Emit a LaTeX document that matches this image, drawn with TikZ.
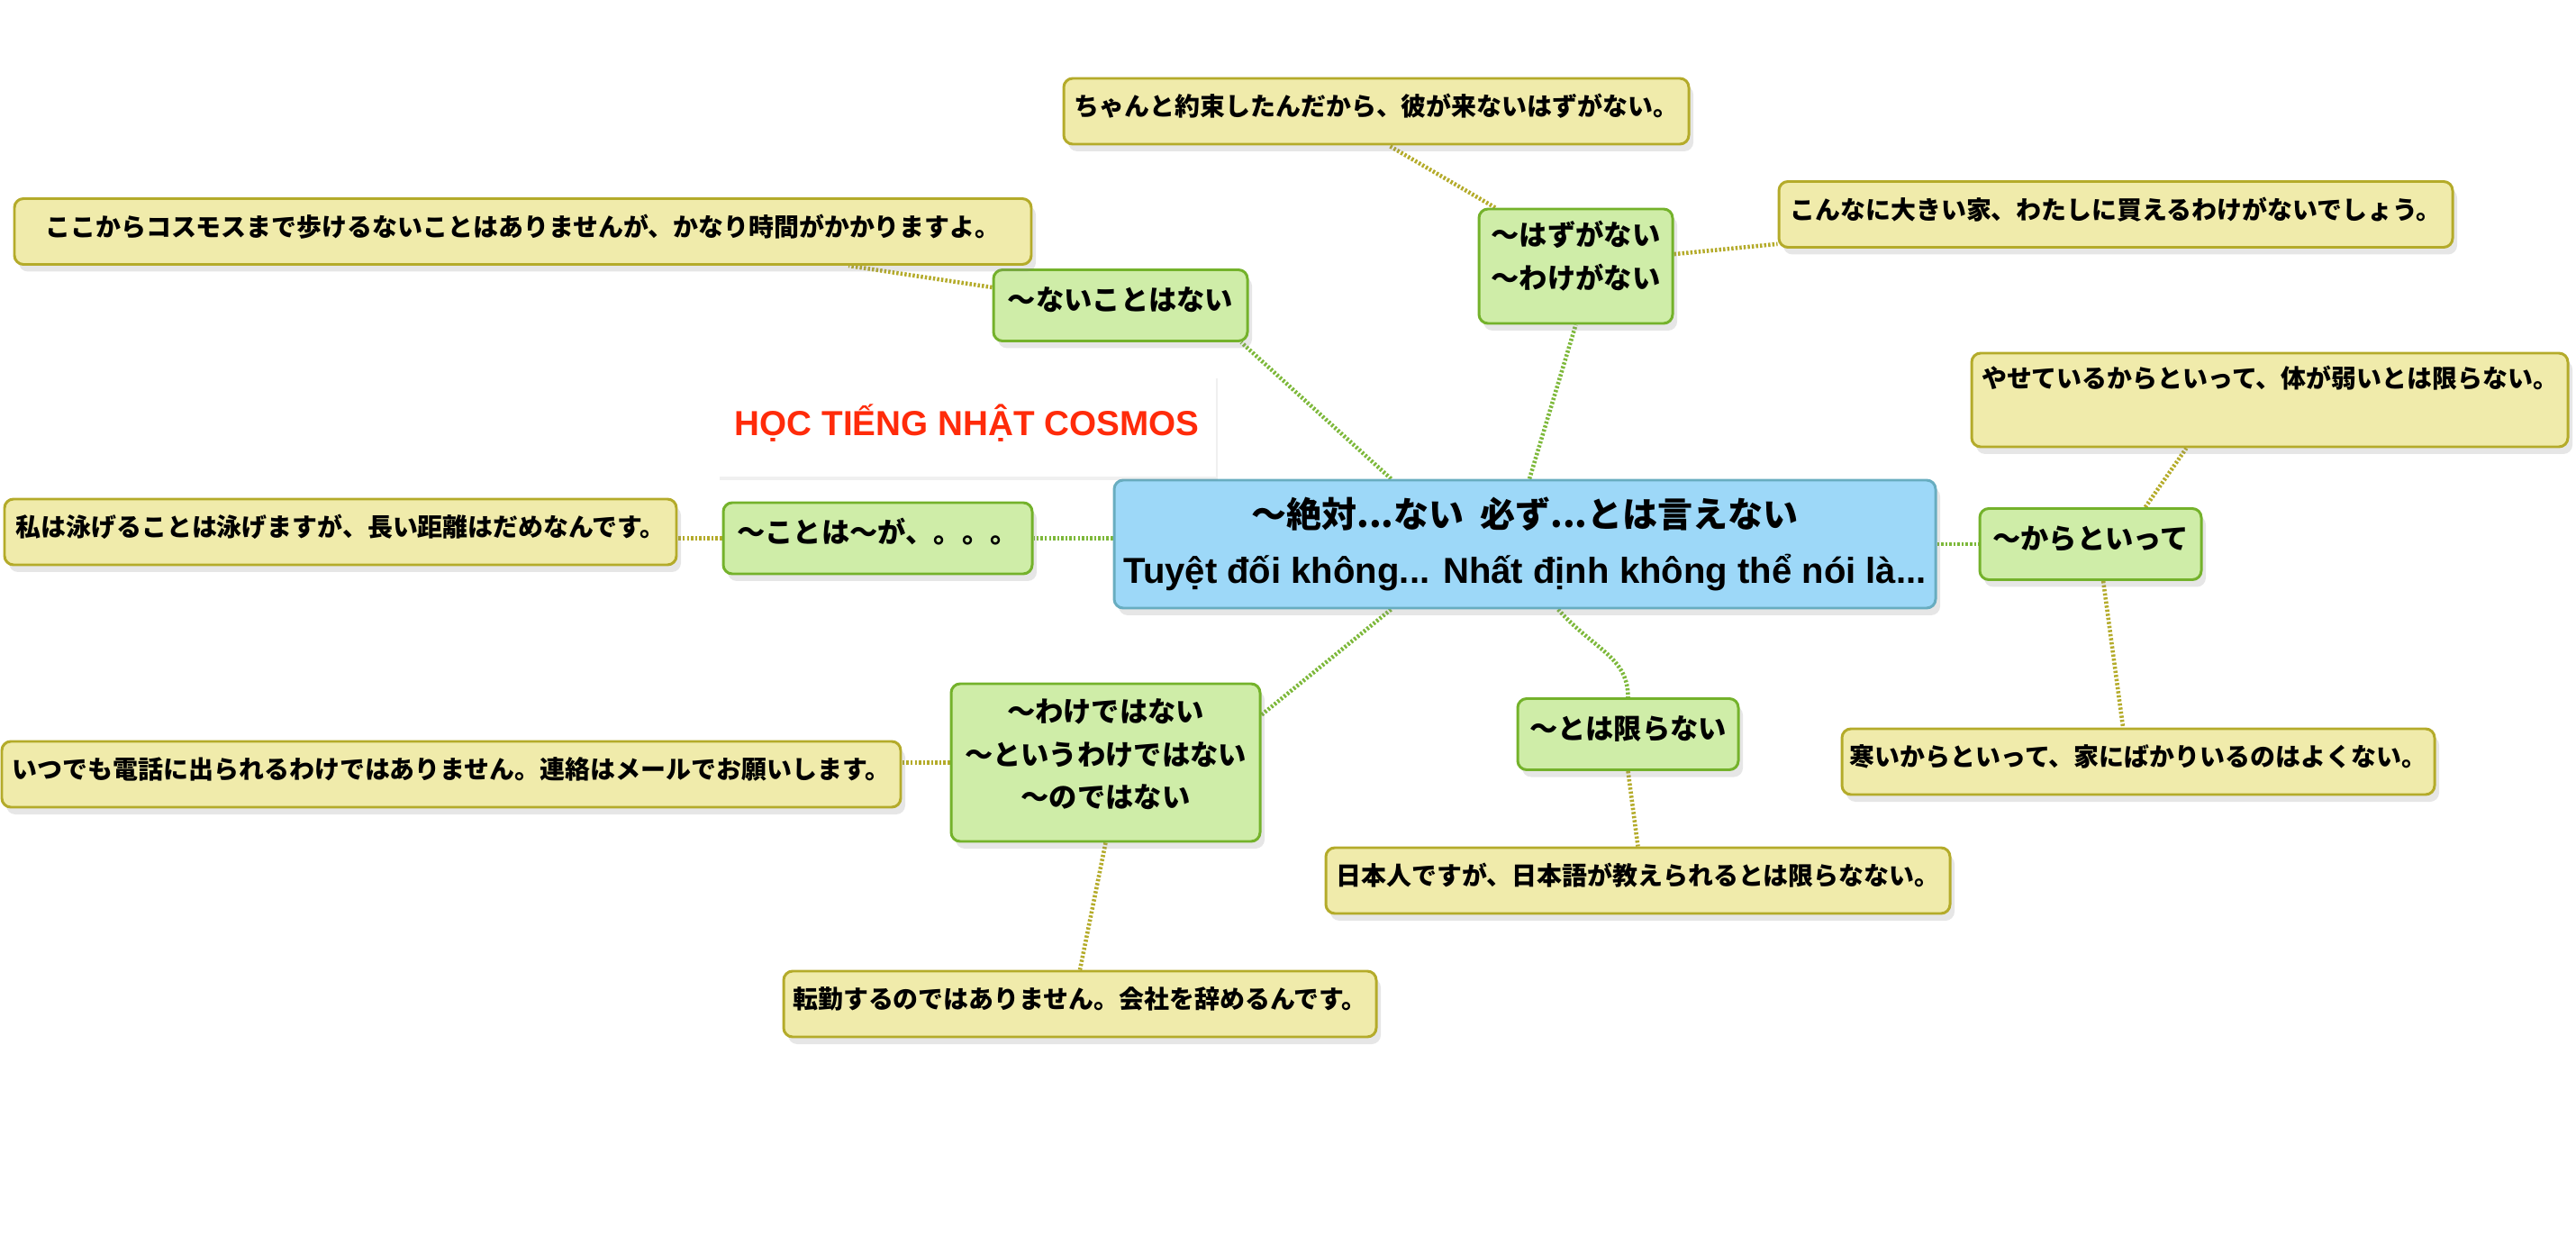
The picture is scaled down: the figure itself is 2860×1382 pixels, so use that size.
\documentclass[tikz,border=0pt]{standalone}
\usepackage{fontspec}
\setmainfont{Liberation Sans}
\newfontfamily\jp{Noto Sans CJK JP}
\usepackage{xcolor}
\usepackage{tikz}
\usetikzlibrary{positioning,calc,backgrounds,shadows}

\definecolor{topicblue}{HTML}{9DD8F8}
\definecolor{topicedge}{HTML}{68ADC0}
\definecolor{subgreen}{HTML}{CFEDA8}
\definecolor{subedge}{HTML}{74B22B}
\definecolor{exyellow}{HTML}{F0EBAB}
\definecolor{exedge}{HTML}{B4AB2A}
\definecolor{linkgreen}{HTML}{7DB83A}
\definecolor{titlered}{HTML}{FF2B0A}

\newcommand{\rows}[1]{\begin{tabular}[t]{@{}c@{}}#1\end{tabular}}

\begin{document}
\begin{tikzpicture}[
  x=0.1mm, y=-0.1mm,
  box/.style={draw, rounded corners=1mm, line width=0.85pt, inner xsep=0pt, inner ysep=0pt,
    drop shadow={shadow xshift=0.5mm, shadow yshift=-0.8mm, opacity=0.2}},
  topic/.style={box, fill=topicblue, draw=topicedge, font=\bfseries\fontsize{11.4pt}{17.6pt}\selectfont,
    text height=5.28mm, text depth=8.92mm, minimum width=91.2mm},
  sub/.style={box, fill=subgreen, draw=subedge, font=\jp\bfseries\fontsize{8.9pt}{13.5pt}\selectfont,
    text height=4.49mm, text depth=3.41mm},
  example/.style={box, fill=exyellow, draw=exedge, font=\jp\bfseries\fontsize{7.95pt}{10pt}\selectfont,
    text height=4.16mm, text depth=3.14mm},
  link/.style={draw=linkgreen, line width=1.3pt, dash pattern=on 0.7pt off 0.6pt},
  sublink/.style={link, draw=exedge},
]
\useasboundingbox (0,0) rectangle (2860,1382);

% main topic and title
\node[topic] (topic) at (1693,604)
  {\rows{{\jp\fontsize{11.1pt}{17.6pt}\selectfont 〜絶対...ない\ \ 必ず...とは言えない}\\
   Tuyệt đối không... Nhất định không thể nói là...}};
\node[draw=none, fill=white, text=titlered, inner sep=0pt,
  drop shadow={shadow xshift=0.2mm, shadow yshift=-0.4mm, opacity=0.12},
  font=\bfseries\fontsize{11pt}{13pt}\selectfont, minimum width=55.3mm,
  text height=6.75mm, text depth=4.55mm] (title) at (1073.5,472.5) {HỌC TIẾNG NHẬT COSMOS};

% grammar points
\node[sub, minimum width=28.2mm] (naikoto) at (1244,339) {〜ないことはない};
\node[sub, minimum width=21.5mm, text height=4.09mm, text depth=8.61mm] (hazu) at (1749.5,295.5)
  {\rows{〜はずがない\\〜わけがない}};
\node[sub, minimum width=34.3mm] (kotowa) at (974.5,597.5) {〜ことは〜が、。。。};
\node[sub, minimum width=24.6mm] (karato) at (2321,604) {〜からといって};
\node[sub, minimum width=34.3mm, text height=4.29mm, text depth=13.21mm] (wakede) at (1227.5,846.5)
  {\rows{〜わけではない\\〜というわけではない\\〜のではない}};
\node[sub, minimum width=24.5mm] (kagira) at (1807.5,815) {〜とは限らない};

% examples
\node[example, minimum width=69.4mm] (exhazu) at (1528,123.5) {ちゃんと約束したんだから、彼が来ないはずがない。};
\node[example, minimum width=74.8mm] (exwake) at (2349,238) {こんなに大きい家、わたしに買えるわけがないでしょう。};
\node[example, minimum width=112.9mm] (exnai) at (580.5,257) {ここからコスモスまで歩けるないことはありませんが、かなり時間がかかりますよ。};
\node[example, minimum width=66.2mm, text height=3.86mm, text depth=6.54mm] (exyase) at (2520,444) {やせているからといって、体が弱いとは限らない。};
\node[example, minimum width=74.6mm] (exkoto) at (378,590.5) {私は泳げることは泳げますが、長い距離はだめなんです。};
\node[example, minimum width=99.8mm] (exdenwa) at (501,859.5) {いつでも電話に出られるわけではありません。連絡はメールでお願いします。};
\node[example, minimum width=65.8mm] (extenkin) at (1199,1114.5) {転勤するのではありません。会社を辞めるんです。};
\node[example, minimum width=69.3mm] (exnihon) at (1818.5,977.5) {日本人ですが、日本語が教えられるとは限らなない。};
\node[example, minimum width=65.8mm] (exsamui) at (2374,845.5) {寒いからといって、家にばかりいるのはよくない。};

\begin{scope}[on background layer]
  \draw[link] (topic.154) -- (naikoto.-17);
  \draw[link] (topic.86) -- (hazu.south);
  \draw[link] (topic.west |- kotowa.east) -- (kotowa.east);
  \draw[link] (topic.east) -- (karato.west);
  \draw[link] (topic.206) -- (wakede.17);
  \draw[link] (topic.297) .. controls +(40,45) and +(0,-45) .. (kagira.north);

  \draw[sublink] (naikoto.172) -- (exnai.354);
  \draw[sublink] (hazu.144) -- (exhazu.290);
  \draw[sublink] (hazu.7) -- (exwake.185);
  \draw[sublink] (kotowa.west) -- (kotowa.west -| exkoto.east);
  \draw[sublink] (karato.34) -- (exyase.210);
  \draw[sublink] (karato.289) -- (exsamui.114);
  \draw[sublink] (wakede.west) -- (wakede.west -| exdenwa.east);
  \draw[sublink] (wakede.south) -- (extenkin.north);
  \draw[sublink] (kagira.south) -- (exnihon.north);
\end{scope}
\end{tikzpicture}
\end{document}
